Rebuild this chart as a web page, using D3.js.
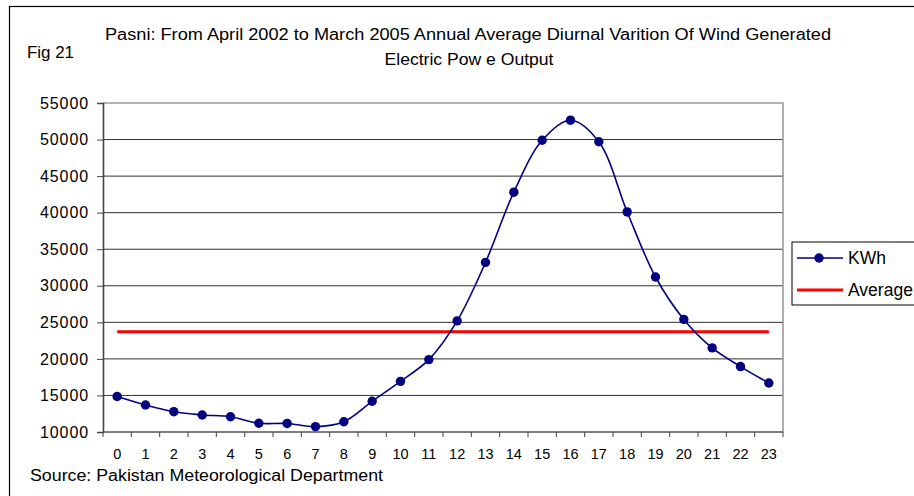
<!DOCTYPE html>
<meta charset="utf-8">
<style>
  body { margin: 0; background: #fff; }
  text { font-family: "Liberation Sans", Arial, sans-serif; fill: #000; }
</style>
<body>
<script src="https://d3js.org/d3.v7.min.js"></script>
<script>

// hours of the day and the generated power (KWh)
var hours = d3.range(0, 24);
var kwh = [14850, 13700, 12780, 12330, 12090, 11190, 11170, 10740, 11400, 14200, 16930, 19900,
           25200, 33200, 42800, 49900, 52650, 49700, 40100, 31200, 25400, 21500, 18950, 16700];
var average = [23700];
var yTicks = [10000, 15000, 20000, 25000, 30000, 35000, 40000, 45000, 50000, 55000];
var legendItems = ["KWh", "Average"];

var width = 914,
    height = 496;

var svg = d3.select("body").append("svg")
    .attr("width", width)
    .attr("height", height);

// outer chart frame (runs off the right and bottom edge)
svg.append("rect")
    .attr("x", 9.5)
    .attr("y", 6.5)
    .attr("width", 960)
    .attr("height", 520)
    .attr("fill", "none")
    .attr("stroke", "#000")
    .attr("stroke-width", 1.2);

var plot = {left: 103, right: 783, top: 103, bottom: 432};

var x = d3.scaleBand()
    .domain(hours)
    .range([plot.left, plot.right]);

var y = d3.scaleLinear()
    .domain([10000, 55000])
    .range([plot.bottom, plot.top]);

var cx = function(h) { return x(h) + x.bandwidth() / 2; };

// gridlines
svg.append("g")
  .selectAll("line")
  .data(yTicks.filter(function(d) { return d > 10000 && d < 55000; }))
  .enter().append("line")
    .attr("x1", plot.left)
    .attr("x2", plot.right)
    .attr("y1", function(d) { return y(d); })
    .attr("y2", function(d) { return y(d); })
    .attr("stroke", "#303030")
    .attr("stroke-width", 1);

// plot area border (top and right)
svg.append("path")
    .attr("d", "M" + plot.left + "," + y(55000) + "H" + plot.right + "V" + plot.bottom)
    .attr("fill", "none")
    .attr("stroke", "#999")
    .attr("stroke-width", 1.6);

// y axis
var yAxis = d3.axisLeft(y)
    .tickValues(yTicks)
    .tickSize(6)
    .tickPadding(8)
    .tickFormat(d3.format("d"));

var gy = svg.append("g")
    .attr("transform", "translate(" + plot.left + ",0)")
    .call(yAxis);
gy.select(".domain").attr("stroke", "#444").attr("stroke-width", 1.6);
gy.selectAll(".tick line").attr("stroke", "#444");
gy.selectAll(".tick text")
    .attr("font-size", 16)
    .attr("letter-spacing", 0.9)
    .attr("font-family", "Liberation Sans, Arial, sans-serif");

// x axis: ticks sit between the categories
var gx = svg.append("g")
    .attr("transform", "translate(0," + plot.bottom + ")");
gx.append("line")
    .attr("x1", plot.left)
    .attr("x2", plot.right)
    .attr("stroke", "#555")
    .attr("stroke-width", 1.6);
gx.selectAll(".tk")
  .data(d3.range(0, 25))
  .enter().append("line")
    .attr("x1", function(i) { return plot.left + i * x.bandwidth(); })
    .attr("x2", function(i) { return plot.left + i * x.bandwidth(); })
    .attr("y1", 0)
    .attr("y2", 5)
    .attr("stroke", "#444");
gx.selectAll("text")
  .data(hours)
  .enter().append("text")
    .attr("x", cx)
    .attr("y", 27)
    .attr("text-anchor", "middle")
    .attr("font-size", 14.5)
    .text(function(d) { return d; });

// average line
svg.append("line")
    .attr("x1", cx(hours[0]))
    .attr("x2", cx(hours[hours.length - 1]))
    .attr("y1", y(average[0]))
    .attr("y2", y(average[0]))
    .attr("stroke", "#ff0000")
    .attr("stroke-width", 3);

// smoothed KWh series
var line = d3.line()
    .x(function(d, i) { return cx(hours[i]); })
    .y(function(d) { return y(d); })
    .curve(d3.curveCatmullRom.alpha(0.5));

svg.append("path")
    .datum(kwh)
    .attr("d", line)
    .attr("fill", "none")
    .attr("stroke", "#000080")
    .attr("stroke-width", 1.6);

svg.append("g")
  .selectAll("circle")
  .data(kwh)
  .enter().append("circle")
    .attr("cx", function(d, i) { return cx(hours[i]); })
    .attr("cy", function(d) { return y(d); })
    .attr("r", 4.7)
    .attr("fill", "#000080");

// titles
svg.append("text")
    .attr("x", 468)
    .attr("y", 40)
    .attr("text-anchor", "middle")
    .attr("font-size", 16)
    .attr("textLength", 726)
    .attr("lengthAdjust", "spacingAndGlyphs")
    .text("Pasni: From April 2002 to March 2005 Annual Average Diurnal Varition Of Wind Generated");

svg.append("text")
    .attr("x", 469)
    .attr("y", 65)
    .attr("text-anchor", "middle")
    .attr("font-size", 16)
    .attr("textLength", 169)
    .attr("lengthAdjust", "spacingAndGlyphs")
    .text("Electric Pow e Output");

svg.append("text")
    .attr("x", 27)
    .attr("y", 58)
    .attr("font-size", 16)
    .attr("textLength", 47)
    .attr("lengthAdjust", "spacingAndGlyphs")
    .text("Fig 21");

svg.append("text")
    .attr("x", 30)
    .attr("y", 481)
    .attr("font-size", 16)
    .attr("textLength", 353)
    .attr("lengthAdjust", "spacingAndGlyphs")
    .text("Source: Pakistan Meteorological Department");

// legend
var legend = svg.append("g");
legend.append("rect")
    .attr("x", 792)
    .attr("y", 242)
    .attr("width", 140)
    .attr("height", 63)
    .attr("fill", "#fff")
    .attr("stroke", "#000")
    .attr("stroke-width", 1);

var rowY = [258, 290];
legend.selectAll("line")
  .data(legendItems)
  .enter().append("line")
    .attr("x1", 797)
    .attr("x2", 843)
    .attr("y1", function(d, i) { return rowY[i]; })
    .attr("y2", function(d, i) { return rowY[i]; })
    .attr("stroke", function(d, i) { return i === 0 ? "#000080" : "#ff0000"; })
    .attr("stroke-width", function(d, i) { return i === 0 ? 1.6 : 3; });

legend.append("circle")
    .attr("cx", 819)
    .attr("cy", rowY[0])
    .attr("r", 4.7)
    .attr("fill", "#000080");

legend.selectAll("text")
  .data(legendItems)
  .enter().append("text")
    .attr("x", 848)
    .attr("y", function(d, i) { return rowY[i] + 6; })
    .attr("font-size", 17.5)
    .text(function(d) { return d; });

</script>
</body>
